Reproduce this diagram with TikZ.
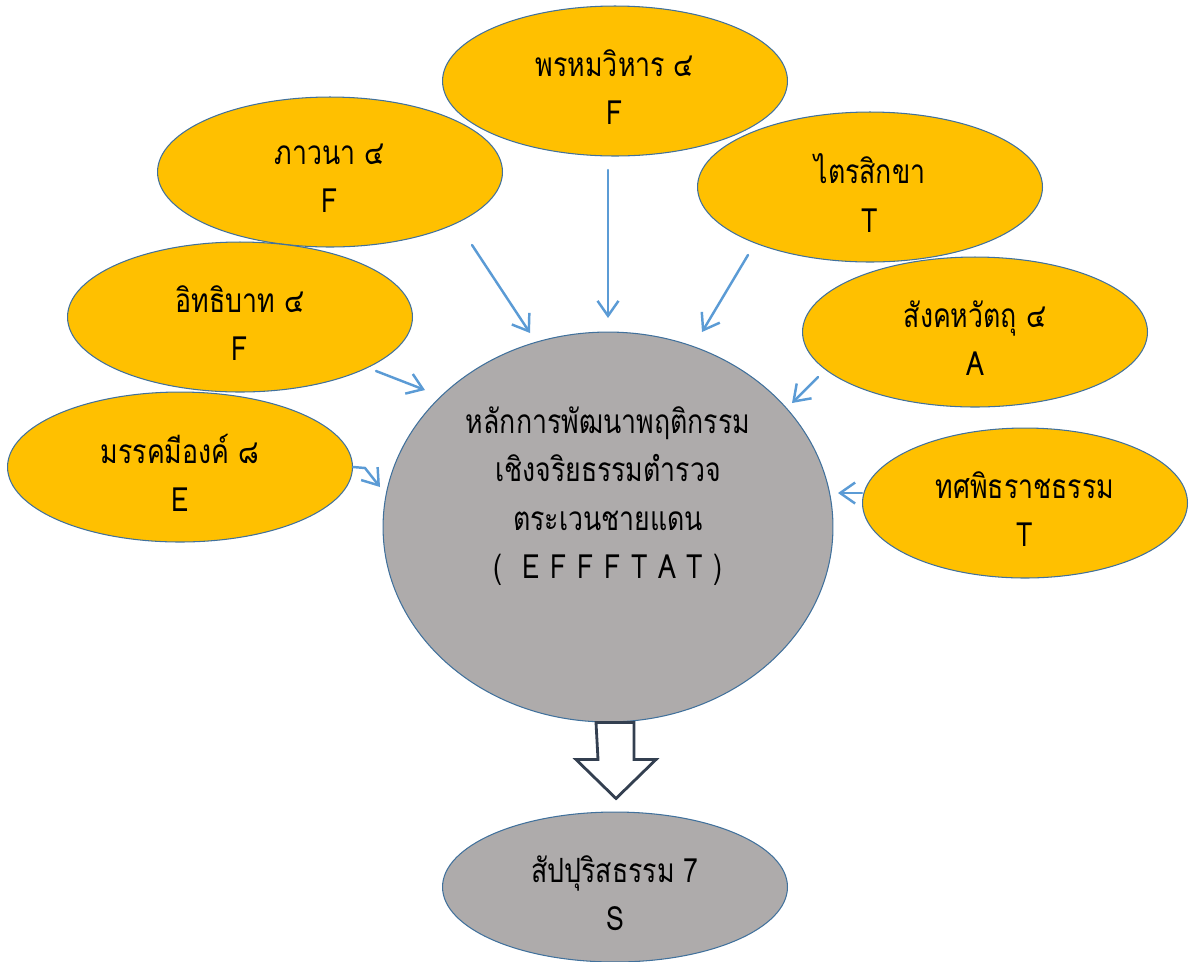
\documentclass[tikz,border=0pt]{standalone}
\usepackage{fontspec}
\setmainfont[Script=Thai, FakeStretch=0.8]{Loma}
\usetikzlibrary{shapes.geometric, arrows.meta, positioning}
\definecolor{petalgold}{RGB}{255, 192, 0}
\definecolor{coregray}{RGB}{174, 171, 171}
\definecolor{rimblue}{RGB}{65, 113, 156}
\definecolor{linkblue}{RGB}{91, 155, 213}
\definecolor{slate}{RGB}{51, 63, 80}

\begin{document}
\begin{tikzpicture}[x=0.02cm, y=-0.02cm,
  petal/.style={ellipse, draw=rimblue, line width=0.6pt, fill=petalgold, inner sep=0pt,
    minimum width=6.9cm, minimum height=3cm},
  corebox/.style={petal, fill=coregray},
  say/.style={align=center, inner sep=0pt, yshift=-0.12cm, font=\fontsize{19}{27.5}\selectfont},
  link/.style={linkblue, line width=1.4pt, line cap=round, -{Straight Barb[length=3mm, width=4.2mm]}}]
  \useasboundingbox (0, 0) rectangle (1195, 961);

  % centre
  \node[corebox, minimum width=9cm, minimum height=7.8cm,
    label={[say, yshift=0.74cm]center:{หลักการพัฒนาพฤติกรรม\\ เชิงจริยธรรมตำรวจ\\ ตระเวนชายแดน\\
     {\addfontfeature{LetterSpace=32}( EFFFTAT)}}}] (core) at (608, 527) {};

  % the seven groups round it
  \node[petal, label={[say]center:{พรหมวิหาร ๔\\ F}}] (brahma) at (615, 81) {};
  \node[petal, label={[say]center:{ภาวนา ๔\\ F}}] (bhavana) at (330, 172) {};
  \node[petal, label={[say]center:{ไตรสิกขา\\ T}}] (sikkha) at (870, 187) {};
  \node[petal, label={[say]center:{อิทธิบาท ๔\\ F}}] (iddhi) at (240, 317) {};
  \node[petal, label={[say]center:{สังคหวัตถุ ๔\\ A}}] (sangaha) at (975, 332) {};
  \node[petal, label={[say]center:{มรรคมีองค์ ๘\\ E}}] (magga) at (180, 467) {};
  \node[petal, minimum width=6.5cm, label={[say]center:{ทศพิธราชธรรม\\ T}}] (rajadhamma) at (1025, 503) {};

  % result
  \node[corebox, label={[say]center:{สัปปุริสธรรม 7\\ S}}] (sappurisa) at (615, 887) {};

  % arrow ends
  \coordinate (brahma-out) at (608, 170);
  \coordinate (brahma-in) at (608, 318);
  \coordinate (bhavana-out) at (472, 245);
  \coordinate (bhavana-in) at (530, 333);
  \coordinate (sikkha-out) at (748, 255);
  \coordinate (sikkha-in) at (702, 332);
  \coordinate (iddhi-out) at (376, 371);
  \coordinate (iddhi-in) at (425, 390);
  \coordinate (sangaha-out) at (818, 377);
  \coordinate (sangaha-in) at (792, 403);
  \coordinate (magga-in) at (380, 487);
  \coordinate (rajadhamma-in) at (838, 493);

  \draw[link] (brahma-out) -- (brahma-in);
  \draw[link] (bhavana-out) -- (bhavana-in);
  \draw[link] (sikkha-out) -- (sikkha-in);
  \draw[link] (iddhi-out) -- (iddhi-in);
  \draw[link] (sangaha-out) -- (sangaha-in);
  \draw[link] (magga.east) -- ++(12, 1) -- (magga-in);
  \draw[link] (rajadhamma.west) ++(0, -10) -- (rajadhamma-in);

  % block arrow down
  \draw[slate, line width=1.6pt, fill=white, line join=miter]
    (core.south) ++(-12, 0) -- ++(38, 0) -- ++(0, 37) -- ++(22, 0) -- ++(-40, 39)
    -- ++(-40, -39) -- ++(22, 0) -- cycle;
\end{tikzpicture}
\end{document}
